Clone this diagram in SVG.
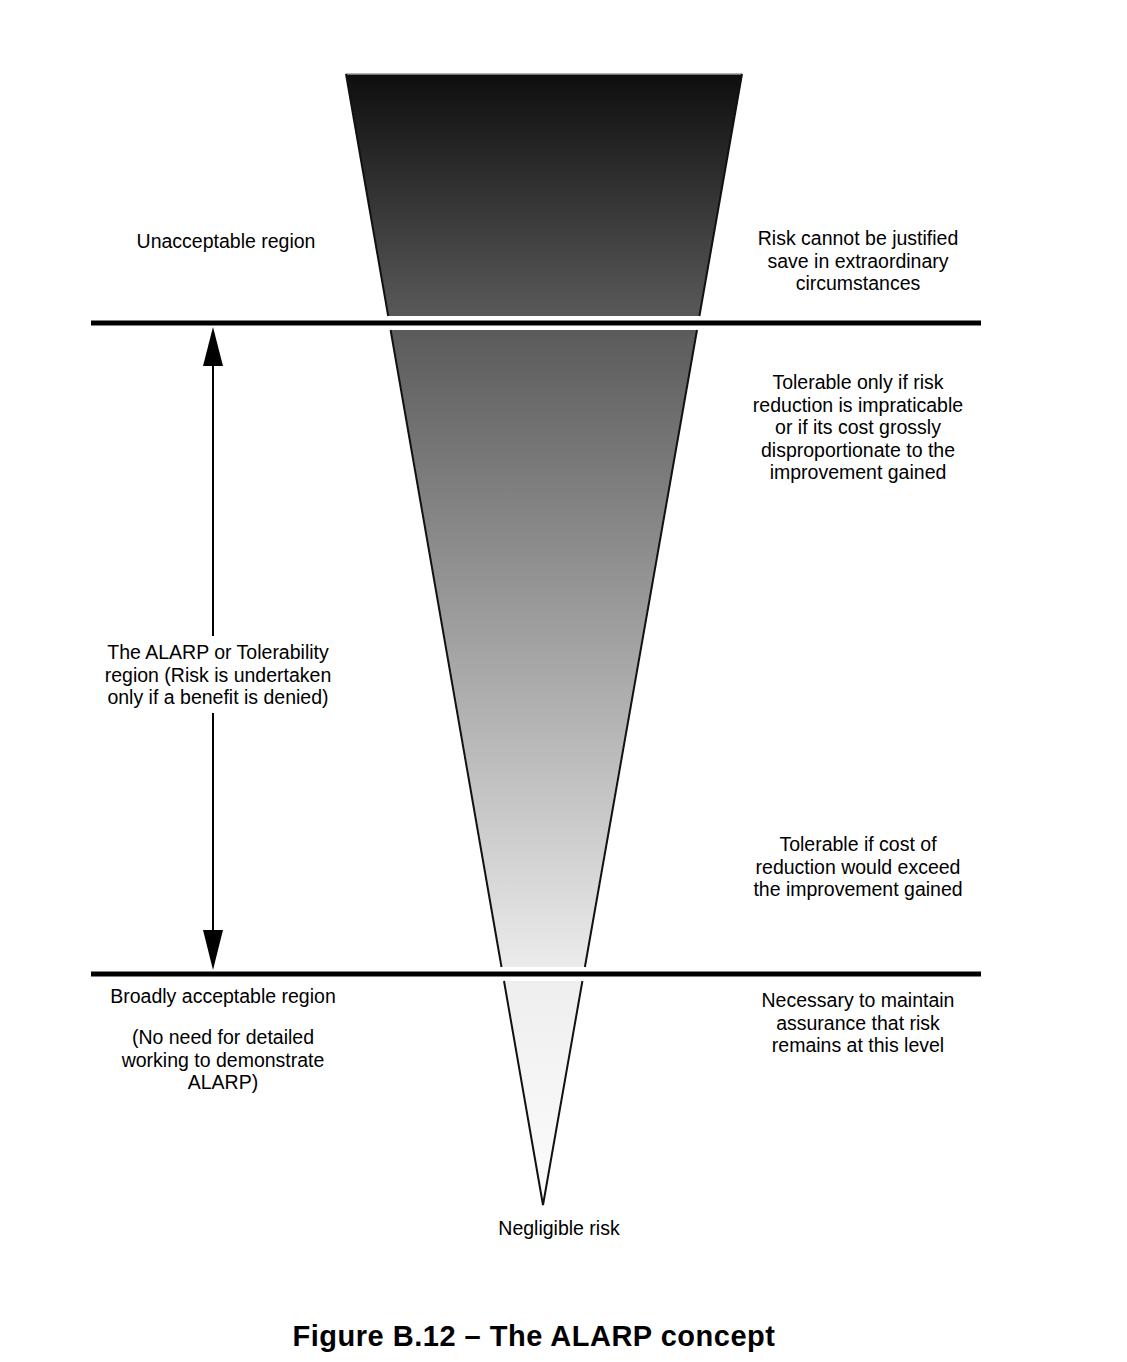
<svg xmlns="http://www.w3.org/2000/svg" width="1127" height="1362" viewBox="0 0 1127 1362">
<style>
.t{font-family:"Liberation Sans",Arial,sans-serif;font-size:19.5px;fill:#000;text-anchor:middle}
.title{font-family:"Liberation Sans",Arial,sans-serif;font-size:29px;font-weight:bold;fill:#000;text-anchor:middle;letter-spacing:0.5px}
.side{stroke:#111;stroke-width:2;fill:none}
.bar{stroke:#000;stroke-width:5}
.ax{stroke:#000;stroke-width:2}
</style>
<defs>
<linearGradient id="g" gradientUnits="userSpaceOnUse" x1="0" y1="74" x2="0" y2="1205">
<stop offset="0" stop-color="#0e0e0e"/>
<stop offset="0.2" stop-color="#545454"/>
<stop offset="0.8" stop-color="#eeeeee"/>
<stop offset="1" stop-color="#fcfcfc"/>
</linearGradient>
</defs>
<rect width="1127" height="1362" fill="#fff"/>
<g id="seg-unacceptable">
<polygon points="346,74 742,74 699.4,316 388.2,316" fill="url(#g)"/>
<line x1="346" y1="74" x2="742" y2="74" stroke="#999" stroke-width="1.5"/>
<polyline class="side" points="346,74 388.2,316"/>
<polyline class="side" points="742,74 699.4,316"/>
</g>
<g id="seg-alarp">
<polygon points="390.6,330 697,330 584.9,967 501.5,967" fill="url(#g)"/>
<polyline class="side" points="390.6,330 501.5,967"/>
<polyline class="side" points="697,330 584.9,967"/>
</g>
<g id="seg-broad">
<polygon points="504,981 582.4,981 543,1205" fill="url(#g)"/>
<polyline class="side" points="504,981 543,1205 582.4,981"/>
</g>
<g id="connectors">
<line class="bar" x1="91" y1="323" x2="981" y2="323"/>
<line class="bar" x1="91" y1="974" x2="981" y2="974"/>
<line class="ax" x1="213" y1="360" x2="213" y2="636"/>
<line class="ax" x1="213" y1="713" x2="213" y2="935"/>
<polygon points="213,327 223,366 203,366" fill="#000"/>
<polygon points="213,970 223,930 203,930" fill="#000"/>
</g>
<g id="label-unacceptable"><text class="t" x="226" y="248">Unacceptable region</text></g>
<g id="label-alarp">
<text class="t" x="218" y="659">The ALARP or Tolerability</text>
<text class="t" x="218" y="681.5">region (Risk is undertaken</text>
<text class="t" x="218" y="704">only if a benefit is denied)</text>
</g>
<g id="label-broad">
<text class="t" x="223" y="1003">Broadly acceptable region</text>
<text class="t" x="223" y="1044">(No need for detailed</text>
<text class="t" x="223" y="1066.5">working to demonstrate</text>
<text class="t" x="223" y="1089">ALARP)</text>
</g>
<g id="note-unjustified">
<text class="t" x="858" y="245">Risk cannot be justified</text>
<text class="t" x="858" y="267.5">save in extraordinary</text>
<text class="t" x="858" y="290">circumstances</text>
</g>
<g id="note-tolerable-only">
<text class="t" x="858" y="389">Tolerable only if risk</text>
<text class="t" x="858" y="411.5">reduction is impraticable</text>
<text class="t" x="858" y="434">or if its cost grossly</text>
<text class="t" x="858" y="456.5">disproportionate to the</text>
<text class="t" x="858" y="479">improvement gained</text>
</g>
<g id="note-tolerable-if">
<text class="t" x="858" y="851">Tolerable if cost of</text>
<text class="t" x="858" y="873.5">reduction would exceed</text>
<text class="t" x="858" y="896">the improvement gained</text>
</g>
<g id="note-necessary">
<text class="t" x="858" y="1007">Necessary to maintain</text>
<text class="t" x="858" y="1029.5">assurance that risk</text>
<text class="t" x="858" y="1052">remains at this level</text>
</g>
<g id="label-negligible"><text class="t" x="559" y="1235">Negligible risk</text></g>
<g id="caption"><text class="title" x="534" y="1346">Figure B.12 – The ALARP concept</text></g>
</svg>
